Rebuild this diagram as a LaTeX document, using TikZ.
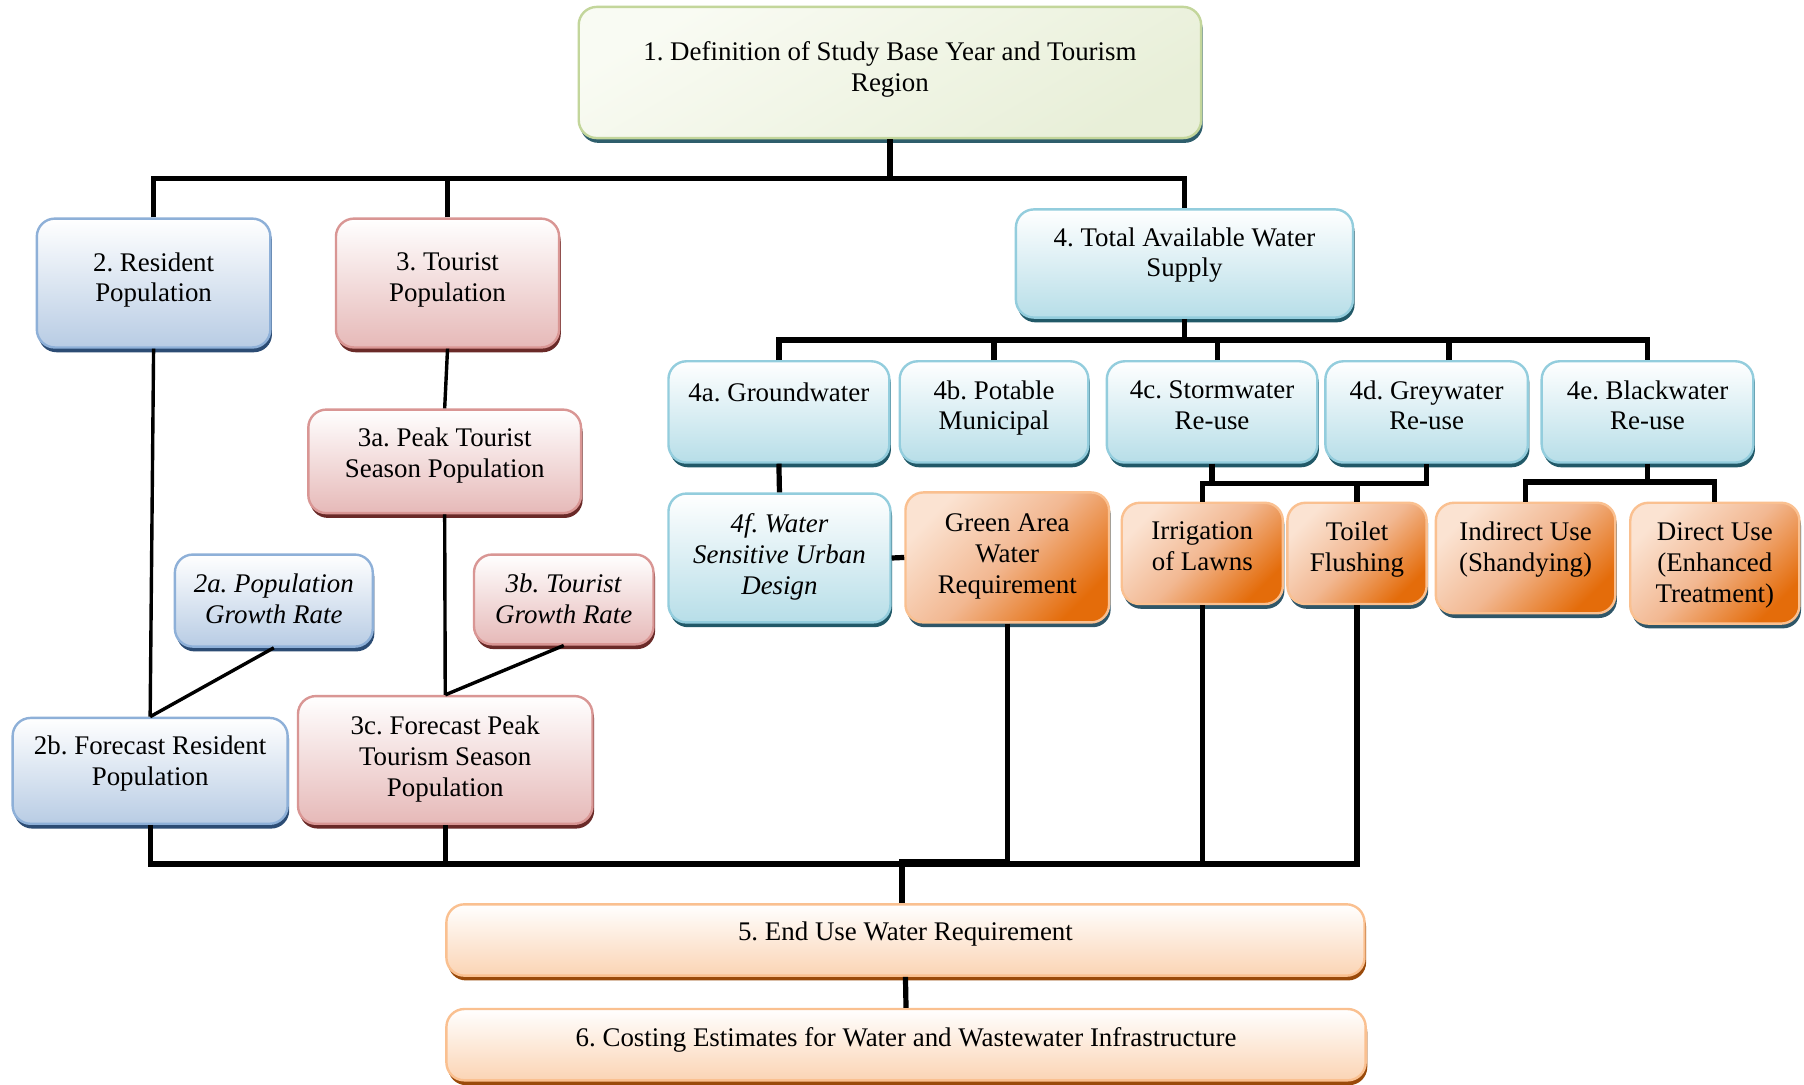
\documentclass[tikz,border=0pt]{standalone}
\usepackage{fontspec}
\setmainfont{Liberation Serif}
\usetikzlibrary{shadows,calc}
\definecolor{grnB}{HTML}{C3D69B}
\definecolor{grnT}{HTML}{F9FBF3}
\definecolor{grnF}{HTML}{E8EFD8}
\definecolor{grnS}{HTML}{2E5E6C}
\definecolor{resB}{HTML}{8EB0D8}
\definecolor{resF}{HTML}{B8CCE4}
\definecolor{resS}{HTML}{2C4C74}
\definecolor{touB}{HTML}{D99694}
\definecolor{touF}{HTML}{E6B9B8}
\definecolor{touS}{HTML}{6A2A28}
\definecolor{watB}{HTML}{93CDDD}
\definecolor{watF}{HTML}{B7DEE8}
\definecolor{watS}{HTML}{215968}
\definecolor{oraB}{HTML}{FAC090}
\definecolor{oraT}{HTML}{FBE3D2}
\definecolor{oraM}{HTML}{F2B892}
\definecolor{oraF}{HTML}{E46C0A}
\definecolor{oraS}{HTML}{2F5668}
\definecolor{endF}{HTML}{FBD4B4}
\definecolor{endS}{HTML}{9A4A0A}
\newcommand\mybx[8]{%
  \node[#2, minimum width={(#5-#3)*0.575pt}, minimum height={(#6-#4)*0.575pt}] (#1) at ({(#3+#5)/2},{(#4+#6)/2}) {};
  \node[txt] (#1t) at ({(#3+#5)/2},{#7-15.7}) {#8};
}
\tikzset{
  basebox/.style={rectangle, rounded corners=9pt, line width=1.2pt, inner sep=0pt},
  shad/.style={drop shadow={shadow xshift=0.8pt, shadow yshift=-2.4pt, fill=#1, opacity=1}},
  grnbox/.style={basebox, draw=grnB, top color=grnT, bottom color=grnF, shading angle=30, shad=grnS},
  resbox/.style={basebox, draw=resB, top color=white, bottom color=resF, shad=resS},
  toubox/.style={basebox, draw=touB, top color=white, bottom color=touF, shad=touS},
  watbox/.style={basebox, draw=watB, top color=white, bottom color=watF, shad=watS},
  orabox/.style={basebox, draw=oraB, top color=oraT, bottom color=oraF, middle color=oraM, shading angle=45, shad=oraS},
  endbox/.style={basebox, draw=oraB, top color=white, bottom color=endF, shad=endS},
  txt/.style={inner sep=0pt, anchor=north, align=center, font=\fontsize{13.45}{15.4}\selectfont\frenchspacing, execute at begin node=\strut},
  treeline/.style={line width=2.6pt, line join=miter, black},
  conn/.style={line width=1.7pt, black},
}
\begin{document}
\begin{tikzpicture}[x=0.575pt, y=-0.575pt]
\fill[white] (0,0) rectangle (1568,943);
\useasboundingbox (0,0) rectangle (1568,943);

\mybx{n1}{grnbox}{503}{6}{1044}{120}{51.5}{1. Definition of Study Base Year and Tourism\\Region}
\mybx{n2}{resbox}{32}{190}{235}{302}{234.7}{2. Resident\\Population}
\mybx{n3}{toubox}{292}{190}{486}{302}{234.7}{3. Tourist\\Population}
\mybx{n4}{watbox}{883}{182}{1176}{276}{213}{4. Total Available Water\\Supply}
\mybx{n3a}{toubox}{268}{356}{505}{446}{387.5}{3a. Peak Tourist\\Season Population}
\mybx{n2a}{resbox}{152}{482}{324}{562}{514}{\textit{2a. Population}\\\textit{Growth Rate}}
\mybx{n3b}{toubox}{412}{482}{568}{560}{514}{\textit{3b. Tourist}\\\textit{Growth Rate}}
\mybx{n2b}{resbox}{11}{624}{250}{716}{655}{2b. Forecast Resident\\Population}
\mybx{n3c}{toubox}{259}{605}{515}{716}{637.5}{3c. Forecast Peak\\Tourism Season\\Population}
\mybx{n4a}{watbox}{581}{314}{773}{402}{346}{4a. Groundwater}
\mybx{n4b}{watbox}{782}{314}{946}{402}{346}{4b. Potable\\Municipal}
\mybx{n4c}{watbox}{962}{314}{1145}{402}{346}{4c. Stormwater\\Re-use}
\mybx{n4d}{watbox}{1152}{314}{1328}{402}{346}{4d. Greywater\\Re-use}
\mybx{n4e}{watbox}{1340}{314}{1524}{402}{346}{4e. Blackwater\\Re-use}
\mybx{n4f}{watbox}{581}{429}{774}{541}{462}{\textit{4f. Water}\\\textit{Sensitive Urban}\\\textit{Design}}
\mybx{ngr}{orabox}{787}{428}{964}{541}{462}{Green Area\\Water\\Requirement}
\mybx{nirr}{orabox}{975}{437}{1115}{525}{469}{Irrigation\\of Lawns}
\mybx{ntoi}{orabox}{1119}{437}{1240}{525}{469}{Toilet\\Flushing}
\mybx{nind}{orabox}{1248}{437}{1404}{533}{469}{Indirect Use\\(Shandying)}
\mybx{ndir}{orabox}{1417}{437}{1564}{542}{470}{Direct Use\\(Enhanced\\Treatment)}
\mybx{n5}{endbox}{388}{786}{1186}{848}{814}{5. End Use Water Requirement}
\mybx{n6}{endbox}{388}{877}{1187}{939}{906}{6. Costing Estimates for Water and Wastewater Infrastructure}

\coordinate (b1) at (773,155);
\coordinate (b4) at (1029,295.5);
\coordinate (bcd) at (1150,420);
\coordinate (be) at (1430,419);
\coordinate (bb) at (700,751);
\coordinate (bg) at (830,749);

\draw[treeline] (n1.south) -- (n1.south |- b1);
\draw[treeline] (n2.north) -- (n2.north |- b1) -- (n4.north |- b1) -- (n4.north);
\draw[treeline] (n3.north) -- (n3.north |- b1);
\draw[treeline] (n4.south) -- (n4.south |- b4);
\draw[treeline] (n4a.north) -- (n4a.north |- b4) -- (n4e.north |- b4) -- (n4e.north);
\draw[treeline] (n4b.north) -- (n4b.north |- b4);
\draw[treeline] ($(n4c.north)+(4.5,0)$) -- ($(n4c.north |- b4)+(4.5,0)$);
\draw[treeline] ($(n4d.north)+(19.5,0)$) -- ($(n4d.north |- b4)+(19.5,0)$);
\draw[treeline] (n4a.south) -- (n4f.north);
\draw[treeline] (n4f.east) -- (ngr.west);
\draw[treeline] (n4c.south) -- (n4c.south |- bcd);
\draw[treeline] (nirr.north) -- (nirr.north |- bcd) -- (n4d.south |- bcd) -- (n4d.south);
\draw[treeline] (ntoi.north) -- (ntoi.north |- bcd);
\draw[treeline] (nind.north) -- (nind.north |- be) -- (ndir.north |- be) -- (ndir.north);
\draw[treeline] (n4e.south) -- (n4e.south |- be);

\draw[conn] (n2.south) -- (n2b.north);
\draw[conn] (n2a.south) -- (n2b.north);
\draw[conn] (n3.south) -- (n3a.north);
\draw[conn] (n3a.south) -- (n3c.north);
\draw[conn] (n3b.south) -- (n3c.north);

\draw[treeline] (n2b.south) -- (n2b.south |- bb) -- (ntoi.south |- bb) -- (ntoi.south);
\draw[treeline] (n3c.south) -- (n3c.south |- bb);
\draw[treeline] (nirr.south) -- (nirr.south |- bb);
\draw[treeline] (ngr.south) -- (ngr.south |- bg) -- ($(n5.north |- bg)+(-3,0)$) -- ($(n5.north)+(-3,0)$);
\draw[treeline] (n5.south) -- (n6.north);
\end{tikzpicture}
\end{document}
